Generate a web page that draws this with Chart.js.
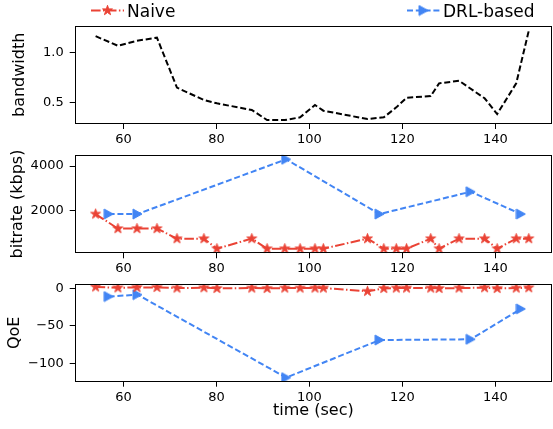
<!DOCTYPE html>
<html><head><meta charset="utf-8">
<script src="https://cdn.jsdelivr.net/npm/chart.js@4.4.1/dist/chart.umd.min.js"></script>
<style>
html,body{margin:0;padding:0;background:#fff;width:553px;height:429px;overflow:hidden;position:relative;}
canvas{position:absolute;left:0;}
</style></head><body>
<canvas id="c1" width="553" height="150" style="top:0px"></canvas>
<canvas id="c2" width="553" height="130" style="top:150px"></canvas>
<canvas id="c3" width="553" height="149" style="top:280px"></canvas>
<script>
// ---- data ----
const times = [54.0,58.8,62.9,67.2,71.5,77.3,80.1,87.6,90.9,94.7,98.0,101.2,103.0,112.5,116.0,118.7,120.9,126.1,127.9,132.2,137.7,140.4,144.5,147.2];
const bandwidth = [1.16,1.065,1.115,1.145,0.65,0.527,0.494,0.428,0.328,0.328,0.355,0.477,0.421,0.338,0.355,0.454,0.55,0.566,0.692,0.718,0.544,0.388,0.692,1.214];
const naiveBitrate = [1850,1200,1200,1200,750,750,300,750,300,300,300,300,300,750,300,300,300,750,300,750,750,300,750,750];
const naiveQoE = [1.85,0.55,1.2,1.2,0.3,0.75,-0.15,0.3,-0.15,0.3,0.3,0.3,0.3,-4,-0.15,0.3,0.3,0.3,-0.15,0.3,0.75,-0.15,0.3,0.75];
const drlTimes = [56.8,63.0,95.0,115.1,134.7,145.5];
const drlBitrate = [1850,1850,4300,1850,2850,1850];
const drlQoE = [-11,-8.5,-119,-69,-68,-27.5];
const seriesNames = ['Naive','DRL-based'];
const xTicks = [60,80,100,120,140];
const bwTicks = [0.5,1.0];
const bwTickLabels = ['0.5','1.0'];
const bitrateTicks = [2000,4000];
const bitrateTickLabels = ['2000','4000'];
const qoeTicks = [-100,-50,0];
const qoeTickLabels = ['\u2212100','\u221250','0'];

// ---- styles ----
const RED = '#EA4335', BLUE = '#4285F4';
const FONT = 'DejaVu Sans';
const DASH = [6,2.8];
const DASHDOT = [9.6,2.4,1.5,2.4];

function starImg(color, r){
  const s = Math.ceil(r*2+4); const c = document.createElement('canvas'); c.width = c.height = s;
  const g = c.getContext('2d'); const cx = s/2, cy = s/2;
  g.beginPath();
  for (let i=0;i<10;i++){ const rr = i%2 ? r*0.381966 : r; const a = -Math.PI/2 + i*Math.PI/5; g.lineTo(cx+rr*Math.cos(a), cy+rr*Math.sin(a)); }
  g.closePath(); g.fillStyle = color; g.fill(); g.strokeStyle = color; g.lineWidth = 1; g.lineJoin='miter'; g.stroke();
  return c;
}
function triImg(color, w, h){
  const c = document.createElement('canvas'); c.width = Math.ceil(w+2); c.height = Math.ceil(h+2);
  const g = c.getContext('2d');
  g.beginPath(); g.moveTo(1,1); g.lineTo(1+w,1+h/2); g.lineTo(1,1+h); g.closePath();
  g.fillStyle = color; g.fill(); g.strokeStyle = color; g.lineWidth = 1; g.stroke();
  return c;
}
const STAR = starImg(RED, 5.2);
const TRI = triImg(BLUE, 9, 10);

const framePlugin = { id:'frame', afterDatasetsDraw(chart){
  const {ctx, chartArea:a} = chart; ctx.save(); ctx.strokeStyle='#000'; ctx.lineWidth=1; ctx.setLineDash([]);
  const l = Math.round(a.left)+0.5, t = Math.round(a.top)+0.5, r = Math.round(a.right)-0.5, b = Math.round(a.bottom)-0.5;
  ctx.strokeRect(l, t, r-l, b-t); ctx.restore(); } };

const legendPlugin = { id:'topLegend', afterDraw(chart){
  const ctx = chart.ctx; ctx.save();
  const y = 10.5;
  ctx.lineWidth = 2;
  ctx.strokeStyle = RED; ctx.setLineDash(DASHDOT); ctx.beginPath(); ctx.moveTo(91,y); ctx.lineTo(124,y); ctx.stroke();
  ctx.drawImage(STAR, 107.5-STAR.width/2, y-STAR.height/2);
  ctx.strokeStyle = BLUE; ctx.setLineDash(DASH); ctx.beginPath(); ctx.moveTo(407,y); ctx.lineTo(440,y); ctx.stroke();
  ctx.drawImage(TRI, 423.5-TRI.width/2, y-TRI.height/2);
  ctx.setLineDash([]);
  ctx.fillStyle = '#000'; ctx.font = '17px "' + FONT + '"'; ctx.textBaseline = 'alphabetic'; ctx.textAlign='left';
  ctx.fillText(seriesNames[0], 127, 16.5);
  ctx.fillText(seriesNames[1], 443, 16.5);
  ctx.restore(); } };

function noPad(s){ s.paddingTop = 0; s.paddingBottom = 0; s.paddingLeft = 0; s.paddingRight = 0; }
const XMIN = 49.5, XMAX = 152.2;
function xScale(h, title){
  return { type:'linear', min:XMIN, max:XMAX,
    afterBuildTicks: s => { s.ticks = xTicks.map(v => ({value:v})); },
    ticks:{ font:{family:FONT, size:13}, color:'#000', padding:3, maxRotation:0, autoSkip:false, callback: v => String(v) },
    grid:{ drawOnChartArea:false, drawTicks:true, tickLength:5, color:'#000', lineWidth:1 },
    border:{ display:false },
    title: title ? { display:true, text:title, color:'#000', font:{family:FONT, size:16}, padding:{top:0, bottom:8.4} } : {display:false},
    afterFit: s => { s.height = h; noPad(s); } };
}
function yScale(min, max, tv, tl, title, tpad){
  return { type:'linear', min:min, max:max,
    afterBuildTicks: s => { s.ticks = tv.map(v => ({value:v})); },
    ticks:{ font:{family:FONT, size:13}, color:'#000', padding:6, autoSkip:false, callback: v => { const i = tv.indexOf(v); return i>=0 ? tl[i] : ''; } },
    grid:{ drawOnChartArea:false, drawTicks:true, tickLength:5, color:'#000', lineWidth:1 },
    border:{ display:false },
    title:{ display:true, text:title, color:'#000', font:{family:FONT, size:16}, padding:{top:tpad, bottom:0} },
    afterFit: s => { s.width = 74.7; noPad(s); } };
}
const common = { responsive:false, animation:false, events:[], plugins:{ legend:{display:false}, tooltip:{enabled:false} } };
const pts = (xs, ys) => xs.map((x,i) => ({x:x, y:ys[i]}));

new Chart(document.getElementById('c1'), {
  type:'line',
  data:{ datasets:[{ label:'bandwidth', data:pts(times, bandwidth), borderColor:'#000', borderWidth:2, borderDash:DASH, pointRadius:0, fill:false, tension:0 }] },
  options: Object.assign({}, common, {
    layout:{ autoPadding:false, padding:{ left:0, right:1, top:25.7, bottom:0 } },
    scales:{ x:xScale(26), y:yScale(0.289, 1.264, bwTicks, bwTickLabels, 'bandwidth', 10.4) } }),
  plugins:[framePlugin, legendPlugin]
});

new Chart(document.getElementById('c2'), {
  type:'line',
  data:{ datasets:[
    { label:seriesNames[0], data:pts(times, naiveBitrate), borderColor:RED, borderWidth:2, borderDash:DASHDOT, pointStyle:STAR, pointRadius:5, fill:false, tension:0 },
    { label:seriesNames[1], data:pts(drlTimes, drlBitrate), borderColor:BLUE, borderWidth:2, borderDash:DASH, pointStyle:TRI, pointRadius:5, fill:false, tension:0 }
  ] },
  options: Object.assign({}, common, {
    layout:{ autoPadding:false, padding:{ left:0, right:1, top:4.7, bottom:0 } },
    scales:{ x:xScale(26.7), y:yScale(94, 4506, bitrateTicks, bitrateTickLabels, 'bitrate (kbps)', 8.4) } }),
  plugins:[framePlugin]
});

new Chart(document.getElementById('c3'), {
  type:'line',
  data:{ datasets:[
    { label:seriesNames[0], data:pts(times, naiveQoE), borderColor:RED, borderWidth:2, borderDash:DASHDOT, pointStyle:STAR, pointRadius:5, fill:false, tension:0 },
    { label:seriesNames[1], data:pts(drlTimes, drlQoE), borderColor:BLUE, borderWidth:2, borderDash:DASH, pointStyle:TRI, pointRadius:5, fill:false, tension:0 }
  ] },
  options: Object.assign({}, common, {
    layout:{ autoPadding:false, padding:{ left:0, right:1, top:4, bottom:0 } },
    scales:{ x:xScale(47.3, 'time (sec)'), y:yScale(-124.5, 5.7, qoeTicks, qoeTickLabels, 'QoE', 5.4) } }),
  plugins:[framePlugin]
});
</script>
</body></html>
